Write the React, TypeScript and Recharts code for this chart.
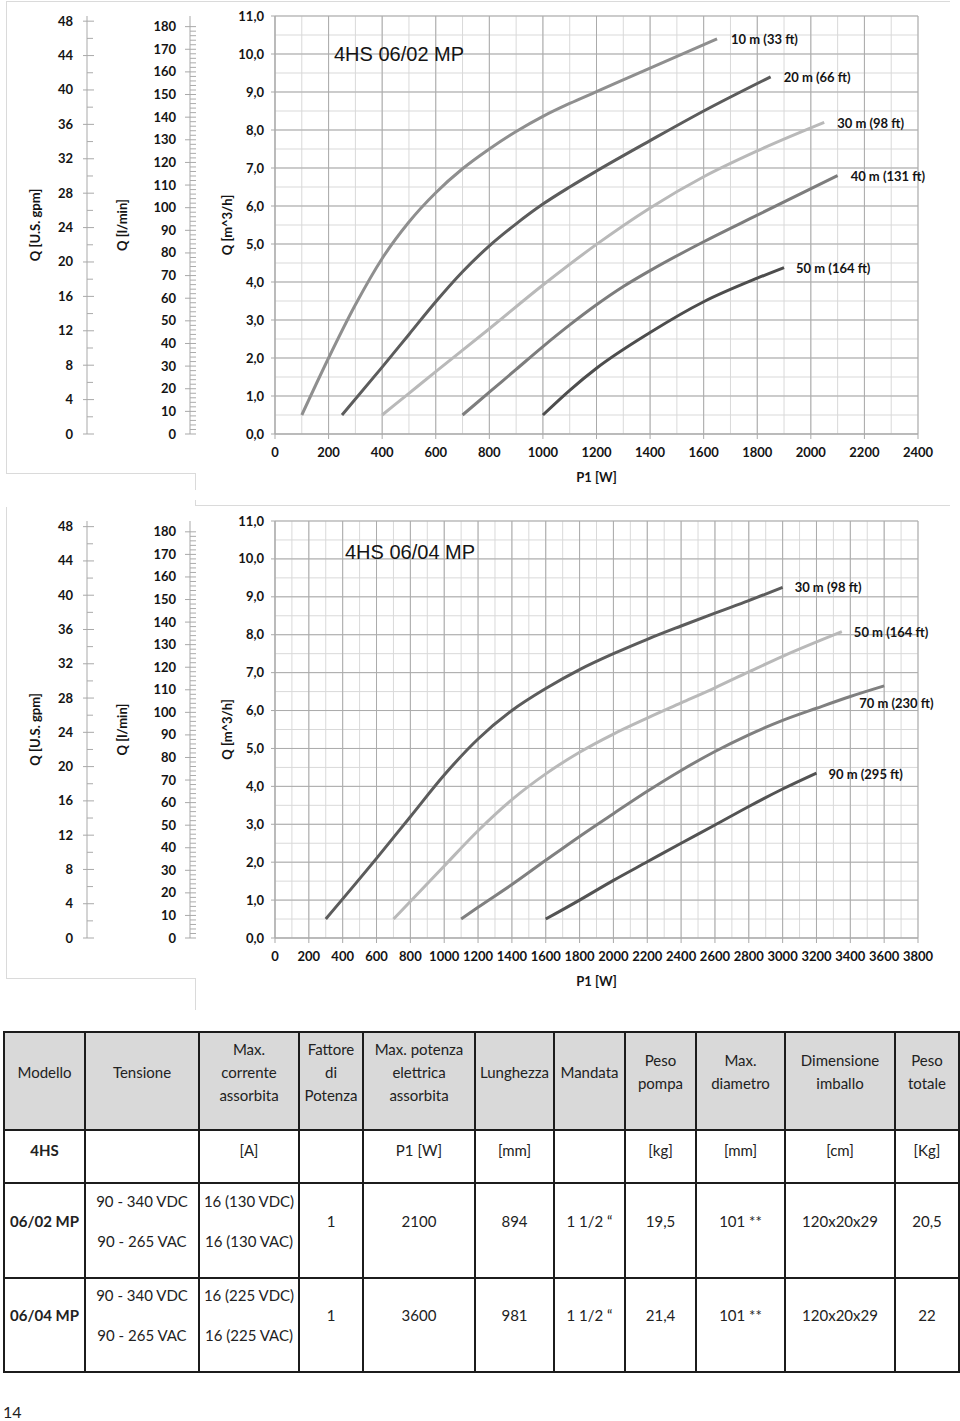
import { LineChart, Line, XAxis, YAxis, CartesianGrid } from "recharts";

const FONT = "Lato, 'Open Sans', sans-serif";
const INK = "#141414";
const AXIS = "#a9a9a9";
const GRID_MINOR = "#d9d9d9";
const GRID_MAJOR = "#ababab";
const FRAME = "#dadada";

// tick principali degli assi portata
const qM3Ticks = [0, 1, 2, 3, 4, 5, 6, 7, 8, 9, 10, 11];
const qLminMajor = [0, 10, 20, 30, 40, 50, 60, 70, 80, 90, 100, 110, 120, 130, 140, 150, 160, 170, 180];
const qGpmMajor = [0, 4, 8, 12, 16, 20, 24, 28, 32, 36, 40, 44, 48];

const p1Ticks0602 = [0, 200, 400, 600, 800, 1000, 1200, 1400, 1600, 1800, 2000, 2200, 2400];
const p1Ticks0604 = [0, 200, 400, 600, 800, 1000, 1200, 1400, 1600, 1800, 2000, 2200, 2400, 2600, 2800, 3000, 3200, 3400, 3600, 3800];

// 4HS 06/02 MP - P1 [W] / Q [m^3/h]
const p10m_0602 = [100, 200, 300, 400, 500, 600, 700, 800, 900, 1000, 1100, 1200, 1400, 1650];
const q10m_0602 = [0.5, 2.0, 3.4, 4.62, 5.58, 6.35, 6.98, 7.5, 7.96, 8.36, 8.7, 9.01, 9.63, 10.4];
const p20m_0602 = [250, 400, 500, 600, 700, 800, 900, 1000, 1100, 1200, 1400, 1600, 1850];
const q20m_0602 = [0.5, 1.76, 2.62, 3.48, 4.27, 4.95, 5.53, 6.05, 6.5, 6.92, 7.72, 8.5, 9.4];
const p30m_0602 = [400, 500, 600, 800, 1000, 1200, 1400, 1600, 1800, 2050];
const q30m_0602 = [0.5, 1.07, 1.64, 2.77, 3.92, 4.99, 5.95, 6.77, 7.45, 8.2];
const p40m_0602 = [700, 800, 900, 1000, 1100, 1200, 1300, 1400, 1600, 1800, 2100];
const q40m_0602 = [0.5, 1.1, 1.7, 2.3, 2.87, 3.4, 3.88, 4.3, 5.06, 5.76, 6.8];
const p50m_0602 = [1000, 1100, 1200, 1400, 1600, 1800, 1900];
const q50m_0602 = [0.5, 1.15, 1.73, 2.67, 3.48, 4.1, 4.38];

// 4HS 06/04 MP
const p30m_0604 = [300, 600, 800, 1000, 1200, 1400, 1600, 1800, 2000, 2200, 2400, 2600, 2800, 3000];
const q30m_0604 = [0.5, 2.1, 3.2, 4.3, 5.25, 6.0, 6.58, 7.08, 7.5, 7.88, 8.23, 8.57, 8.9, 9.25];
const p50m_0604 = [700, 1000, 1200, 1400, 1600, 1800, 2000, 2200, 2400, 2600, 2800, 3000, 3350];
const q50m_0604 = [0.5, 1.9, 2.83, 3.65, 4.33, 4.9, 5.38, 5.8, 6.2, 6.6, 7.02, 7.43, 8.08];
const p70m_0604 = [1100, 1200, 1400, 1600, 1800, 2000, 2200, 2400, 2600, 2800, 3000, 3200, 3400, 3600];
const q70m_0604 = [0.5, 0.81, 1.41, 2.05, 2.68, 3.28, 3.87, 4.42, 4.92, 5.36, 5.74, 6.06, 6.37, 6.65];
const p90m_0604 = [1600, 1800, 2000, 2200, 2400, 2600, 2800, 3000, 3200];
const q90m_0604 = [0.5, 1.0, 1.52, 2.01, 2.5, 2.98, 3.47, 3.93, 4.35];

// tabella
const tableHead = ["Modello", "Tensione", "Max.\ncorrente\nassorbita", "Fattore\ndi\nPotenza", "Max. potenza\nelettrica\nassorbita", "Lunghezza", "Mandata", "Peso\npompa", "Max.\ndiametro", "Dimensione\nimballo", "Peso\ntotale"];
const tableUnits = ["4HS", "", "[A]", "", "P1 [W]", "[mm]", "", "[kg]", "[mm]", "[cm]", "[Kg]"];
const row0602 = ["06/02 MP", "90 - 340 VDC\n90 - 265 VAC", "16 (130 VDC)\n16 (130 VAC)", "1", "2100", "894", "1 1/2 \u201C", "19,5", "101 **", "120x20x29", "20,5"];
const row0604 = ["06/04 MP", "90 - 340 VDC\n90 - 265 VAC", "16 (225 VDC)\n16 (225 VAC)", "1", "3600", "981", "1 1/2 \u201C", "21,4", "101 **", "120x20x29", "22"];
const colWidths = [81, 114, 100, 64, 112, 79, 71, 71, 89, 110, 64];

const range = (a: number, b: number, s: number) =>
  Array.from({ length: Math.round((b - a) / s) + 1 }, (_, i) => +(a + i * s).toFixed(2));

const toPoints = (p: number[], q: number[]) => p.map((v, i) => ({ p: v, q: q[i] }));

type Curve = { name: string; data: { p: number; q: number }[]; color: string; dx: number; dy: number };

const curves0602: Curve[] = [
  { name: "10 m (33 ft)", data: toPoints(p10m_0602, q10m_0602), color: "#8f8f8f", dx: 14, dy: 5 },
  { name: "20 m (66 ft)", data: toPoints(p20m_0602, q20m_0602), color: "#5c5c5c", dx: 13, dy: 5 },
  { name: "30 m (98 ft)", data: toPoints(p30m_0602, q30m_0602), color: "#b9b9b9", dx: 13, dy: 6 },
  { name: "40 m (131 ft)", data: toPoints(p40m_0602, q40m_0602), color: "#7d7d7d", dx: 13, dy: 5 },
  { name: "50 m (164 ft)", data: toPoints(p50m_0602, q50m_0602), color: "#4d4d4d", dx: 12, dy: 5 },
];

const curves0604: Curve[] = [
  { name: "30 m (98 ft)", data: toPoints(p30m_0604, q30m_0604), color: "#5c5c5c", dx: 12, dy: 5 },
  { name: "50 m (164 ft)", data: toPoints(p50m_0604, q50m_0604), color: "#b9b9b9", dx: 12, dy: 5 },
  { name: "70 m (230 ft)", data: toPoints(p70m_0604, q70m_0604), color: "#808080", dx: -25, dy: 22 },
  { name: "90 m (295 ft)", data: toPoints(p90m_0604, q90m_0604), color: "#535353", dx: 12, dy: 6 },
];

const tickText = { fontSize: 13, fontWeight: 700, fill: INK, fontFamily: FONT };

const M3Tick = (props: any) => {
  const { x, y, payload } = props;
  return (
    <g>
      <line x1={x - 4} y1={y} x2={x} y2={y} stroke={AXIS} />
      <text x={x - 11} y={y + 4.5} textAnchor="end" {...tickText}>
        {Number(payload.value).toFixed(1).replace(".", ",")}
      </text>
    </g>
  );
};

const LminTick = (props: any) => {
  const { x, y, payload } = props;
  const v = payload.value;
  if (!qLminMajor.includes(v)) return <line x1={x} y1={y} x2={x + 6} y2={y} stroke={GRID_MAJOR} />;
  return (
    <g>
      <line x1={x - 5} y1={y} x2={x + 6} y2={y} stroke={AXIS} />
      <text x={x - 14} y={y + 4.5} textAnchor="end" {...tickText}>{v}</text>
    </g>
  );
};

const GpmTick = (props: any) => {
  const { x, y, payload } = props;
  const v = payload.value;
  if (!qGpmMajor.includes(v)) return <line x1={x} y1={y} x2={x + 6} y2={y} stroke={GRID_MAJOR} />;
  return (
    <g>
      <line x1={x - 4} y1={y} x2={x + 7} y2={y} stroke={AXIS} />
      <text x={x - 14} y={y + 4.5} textAnchor="end" {...tickText}>{v}</text>
    </g>
  );
};

const P1Tick = (props: any) => {
  const { x, y, payload } = props;
  return (
    <g>
      <line x1={x} y1={y} x2={x} y2={y + 5} stroke={AXIS} />
      <text x={x} y={y + 23} textAnchor="middle" {...tickText}>{payload.value}</text>
    </g>
  );
};

const endLabel = (c: Curve) => (props: any) => {
  if (props.index !== c.data.length - 1) return <g />;
  return (
    <text x={props.x + c.dx} y={props.y + c.dy} {...tickText}>{c.name}</text>
  );
};

type ChartProps = {
  title: string;
  top: number;
  height: number;
  plotTop: number;
  plotBottom: number;
  xMax: number;
  xTicks: number[];
  curves: Curve[];
  lminMax: number;
  gpmMax: number;
  titleX: number;
  titleY: number;
};

// gli id degli assi Y sono ordinati: "q1" sta vicino al grafico, "q3" all'esterno
const PumpChart = ({ title, top, height, plotTop, plotBottom, xMax, xTicks, curves, lminMax, gpmMax, titleX, titleY }: ChartProps) => {
  const axisLabel = { fill: INK, fontSize: 13, fontWeight: 700, fontFamily: FONT };
  return (
    <div style={{ position: "absolute", left: 0, top, width: 960, height }}>
      <LineChart
        width={960}
        height={height}
        margin={{ top: plotTop, right: 42, left: 0, bottom: height - plotBottom - 50 }}
      >
        <CartesianGrid
          yAxisId="q1"
          stroke={GRID_MINOR}
          verticalValues={range(0, xMax, 100)}
          horizontalValues={range(0, 11, 0.5)}
        />
        <CartesianGrid
          yAxisId="q1"
          stroke={GRID_MAJOR}
          verticalValues={xTicks}
          horizontalValues={qM3Ticks}
        />
        <XAxis
          type="number"
          dataKey="p"
          domain={[0, xMax]}
          ticks={xTicks}
          interval={0}
          height={50}
          tickSize={0}
          tickMargin={0}
          tickLine={false}
          axisLine={{ stroke: AXIS }}
          tick={<P1Tick />}
          label={{ value: "P1 [W]", position: "insideBottom", offset: 2, ...axisLabel }}
        />
        <YAxis
          yAxisId="q1"
          type="number"
          domain={[0, 11]}
          allowDataOverflow
          ticks={qM3Ticks}
          interval={0}
          width={85}
          tickSize={0}
          tickMargin={0}
          tickLine={false}
          axisLine={{ stroke: AXIS }}
          tick={<M3Tick />}
          label={{ value: "Q [m^3/h]", angle: -90, position: "center", dx: -5, ...axisLabel }}
        />
        <YAxis
          yAxisId="q2"
          type="number"
          domain={[0, lminMax]}
          allowDataOverflow
          ticks={range(0, 180, 2)}
          interval={0}
          width={103}
          tickSize={0}
          tickMargin={0}
          tickLine={false}
          axisLine={{ stroke: AXIS }}
          tick={<LminTick />}
          label={{ value: "Q [l/min]", angle: -90, position: "center", dx: -16, ...axisLabel }}
        />
        <YAxis
          yAxisId="q3"
          type="number"
          domain={[0, gpmMax]}
          allowDataOverflow
          ticks={range(0, 48, 2)}
          interval={0}
          width={87}
          tickSize={0}
          tickMargin={0}
          tickLine={false}
          axisLine={{ stroke: AXIS }}
          tick={<GpmTick />}
          label={{ value: "Q [U.S. gpm]", angle: -90, position: "center", dx: -8, ...axisLabel }}
        />
        {curves.map((c) => (
          <Line
            key={c.name}
            yAxisId="q1"
            data={c.data}
            dataKey="q"
            type="monotone"
            stroke={c.color}
            strokeWidth={3}
            dot={false}
            isAnimationActive={false}
            label={endLabel(c)}
          />
        ))}
      </LineChart>
      <div
        style={{
          position: "absolute",
          left: titleX,
          top: titleY,
          fontFamily: "'Liberation Sans', Arial, sans-serif",
          fontSize: 20,
          lineHeight: "20px",
          color: INK,
          whiteSpace: "nowrap",
        }}
      >
        {title}
      </div>
    </div>
  );
};

const Rule = ({ x, y, w, h }: { x: number; y: number; w: number; h: number }) => (
  <div style={{ position: "absolute", left: x, top: y, width: w, height: h, background: FRAME }} />
);

const cellBorder = "2px solid #1c1c1c";

const App = () => {
  const cell = (text: string, i: number, extra: any) => (
    <td
      key={i}
      style={{
        border: cellBorder,
        textAlign: "center",
        whiteSpace: "pre-line",
        padding: 0,
        fontWeight: i === 0 ? 700 : 400,
        ...extra,
      }}
    >
      {text}
    </td>
  );
  const twoLine = (text: string, i: number, pb: number) => {
    if (!text.includes("\n")) return cell(text, i, { verticalAlign: "middle", paddingBottom: pb });
    const [a, b] = text.split("\n");
    return (
      <td key={i} style={{ border: cellBorder, textAlign: "center", padding: 0, paddingBottom: pb, verticalAlign: "middle" }}>
        <div>{a}</div>
        <div style={{ marginTop: 17 }}>{b}</div>
      </td>
    );
  };

  return (
    <div style={{ position: "absolute", left: 0, top: 0, width: 960, height: 1421, background: "#fff", fontFamily: FONT }}>
      {/* cornici */}
      <Rule x={6} y={1} w={944} h={1} />
      <Rule x={6} y={1} w={1} h={472} />
      <Rule x={6} y={473} w={189} h={1} />
      <Rule x={195} y={473} w={1} h={17} />
      <Rule x={195} y={500} w={1} h={5} />
      <Rule x={195} y={505} w={755} h={1} />
      <Rule x={6} y={507} w={1} h={471} />
      <Rule x={6} y={978} w={189} h={1} />
      <Rule x={195} y={978} w={1} h={32} />

      <PumpChart
        title="4HS 06/02 MP"
        top={0}
        height={490}
        plotTop={16}
        plotBottom={434}
        xMax={2400}
        xTicks={p1Ticks0602}
        curves={curves0602}
        lminMax={184.7}
        gpmMax={48.6}
        titleX={334}
        titleY={44}
      />
      <PumpChart
        title="4HS 06/04 MP"
        top={500}
        height={510}
        plotTop={21}
        plotBottom={438}
        xMax={3800}
        xTicks={p1Ticks0604}
        curves={curves0604}
        lminMax={184.8}
        gpmMax={48.66}
        titleX={345}
        titleY={42}
      />

      <table
        style={{
          position: "absolute",
          left: 3,
          top: 1031,
          width: 955,
          borderCollapse: "collapse",
          tableLayout: "fixed",
          fontSize: 15,
          lineHeight: "23px",
          color: "#222",
          fontFamily: FONT,
        }}
      >
        <colgroup>
          {colWidths.map((w, i) => (
            <col key={i} style={{ width: w }} />
          ))}
        </colgroup>
        <tbody>
          <tr style={{ height: 98, background: "#d9d9d9" }}>
            {tableHead.map((h, i) => cell(h, i, { verticalAlign: "middle", paddingBottom: 18, fontWeight: 400 }))}
          </tr>
          <tr style={{ height: 53 }}>
            {tableUnits.map((u, i) => cell(u, i, { verticalAlign: "top", paddingTop: 8 }))}
          </tr>
          <tr style={{ height: 95 }}>
            {row0602.map((v, i) => twoLine(v, i, 19))}
          </tr>
          <tr style={{ height: 94 }}>
            {row0604.map((v, i) => twoLine(v, i, 20))}
          </tr>
        </tbody>
      </table>

      <div style={{ position: "absolute", left: 3, top: 1402, fontSize: 16, color: "#222" }}>14</div>
    </div>
  );
};

export default App;
